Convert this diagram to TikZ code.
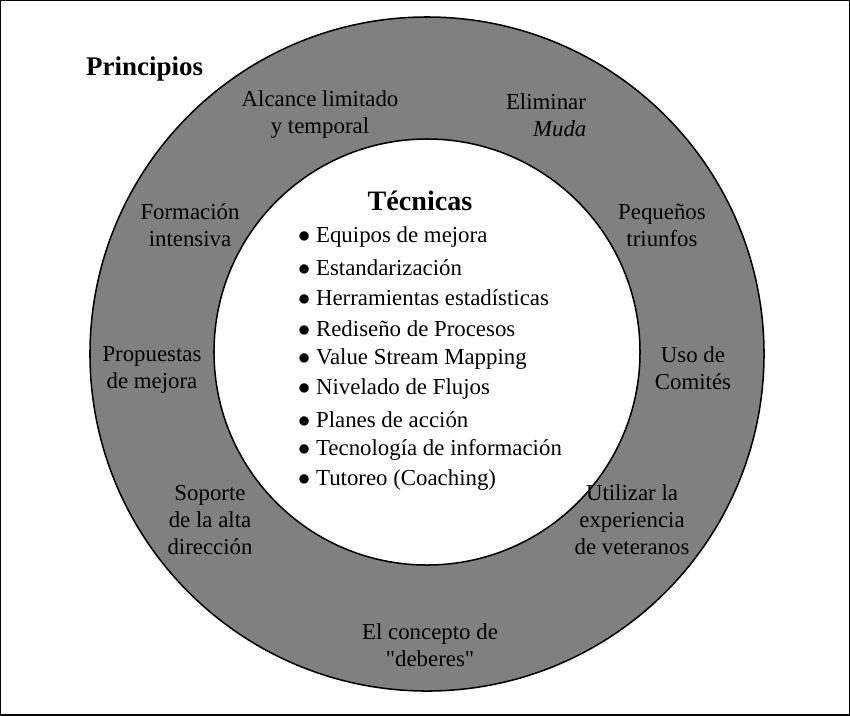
\documentclass[tikz,border=0pt]{standalone}
\usepackage{fontspec}
\setmainfont{Liberation Serif}
\usetikzlibrary{positioning}
\definecolor{ringgray}{RGB}{128,128,128}
\begin{document}
\begin{tikzpicture}[x=0.03cm, y=-0.03cm,
    label/.style={align=center, font=\fontsize{19.5}{23}\selectfont, inner sep=0pt},
    item/.style={anchor=west, font=\fontsize{19.5}{23}\selectfont, inner sep=0pt}]
    \useasboundingbox (0,0) rectangle (850,715);
    \draw[line width=1.5pt, fill=white] (0,0) rectangle (850,715);
    \fill[ringgray, draw=black, line width=1.3pt] (427,354) circle (10.11cm);
    \fill[white, draw=black, line width=1.3pt] (427,352) circle (6.39cm);

    \node [anchor=west, font=\fontsize{23}{26}\selectfont\bfseries, inner sep=0pt] (princ) at (86,69) {Principios};
    \node [label] (alcance) at (320,115) {Alcance limitado\\y temporal};
    \node [label] (eliminar) at (546,115) {Eliminar\\\hspace*{1.2em}\itshape Muda};
    \node [label] (formacion) at (190,225) {Formación\\intensiva};
    \node [label] (pequenos) at (662,225) {Pequeños\\triunfos};
    \node [label] (propuestas) at (152,370) {Propuestas\\de mejora};
    \node [label] (uso) at (693,368) {Uso de\\Comités};
    \node [label] (soporte) at (210,520) {Soporte\\de la alta\\dirección};
    \node [label] (utilizar) at (632,520) {Utilizar la\\experiencia\\de veteranos};
    \node [label] (deberes) at (430,645) {El concepto de\\\textquotedbl deberes\textquotedbl};

    \node [font=\fontsize{24}{26}\selectfont\bfseries, inner sep=0pt] (tecnicas) at (420,201) {Técnicas};
    \foreach \t [count=\i] in {Equipos de mejora, Estandarización, Herramientas estadísticas,
        Rediseño de Procesos, Value Stream Mapping, Nivelado de Flujos, Planes de acción,
        Tecnología de información, Tutoreo (Coaching)}
        \node [item] (t\i) at (298,237+30.4*\i-30.4) {$\bullet$\ \t};
\end{tikzpicture}
\end{document}
